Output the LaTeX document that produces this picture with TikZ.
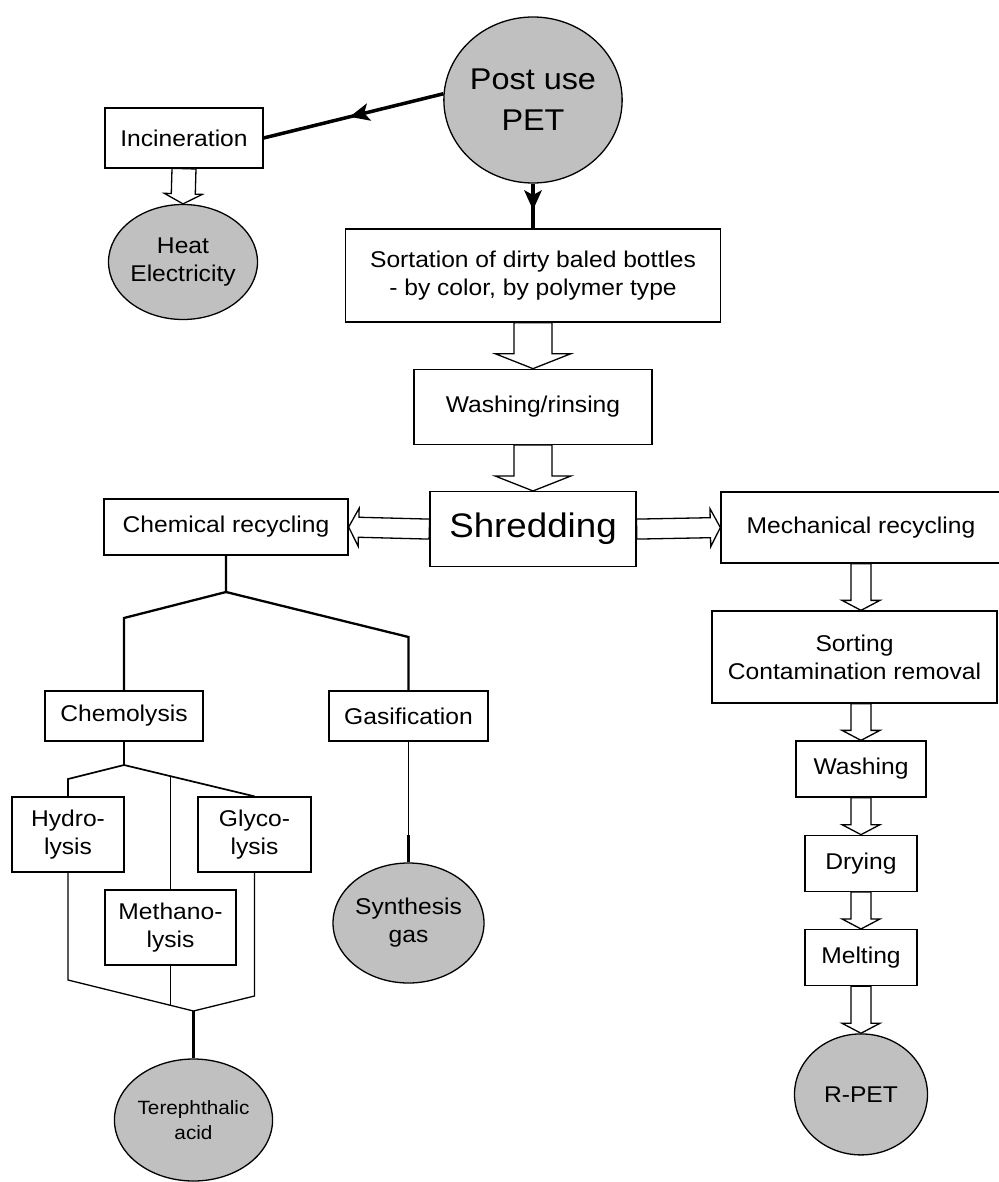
\documentclass[tikz,border=0pt]{standalone}
\usepackage{fontspec}
\setmainfont{Liberation Sans}[FakeStretch=1.08]
\usepackage{tikz}
\usetikzlibrary{shapes.geometric, positioning, calc, decorations.markings}
\definecolor{discgray}{RGB}{192,192,192}

\begin{document}
\begin{tikzpicture}[
    x=1pt, y=-1pt,
    box/.style={draw, rectangle, fill=white, line width=1.3pt, inner sep=0pt, align=center, font=\fontsize{22.8}{28}\selectfont},
    disc/.style={draw, ellipse, fill=discgray, line width=1.3pt, inner sep=0pt, align=center, font=\fontsize{22.8}{28}\selectfont},
    feed/.style={line width=3.5pt, postaction={decorate}, decoration={markings, mark=at position 0.5 with {\fill (4pt,0pt) -- (-16pt,9pt) -- (-11pt,0pt) -- (-16pt,-9pt) -- cycle;}}},
    hollow/.style n args={3}{draw, fill=white, line width=1.3pt, line join=miter, to path={
        let \p1=($(\tikztotarget)-(\tikztostart)$), \n1={atan2(\y1,\x1)}, \n2={veclen(\x1,\y1)} in
        ($(\tikztostart)+({\n1+90}:{#1/2})$)
        -- ($(\tikztostart)+(\n1:{\n2-#3})+({\n1+90}:{#1/2})$)
        -- ($(\tikztostart)+(\n1:{\n2-#3})+({\n1+90}:{#2/2})$)
        -- (\tikztotarget)
        -- ($(\tikztostart)+(\n1:{\n2-#3})+({\n1-90}:{#2/2})$)
        -- ($(\tikztostart)+(\n1:{\n2-#3})+({\n1-90}:{#1/2})$)
        -- ($(\tikztostart)+({\n1-90}:{#1/2})$) -- cycle}},
    bigflow/.style={hollow={38pt}{76pt}{15pt}},
    flow/.style={hollow={20pt}{38pt}{10pt}},
    branch/.style={line width=2.3pt},
    twig/.style={line width=1.3pt}
]
    \useasboundingbox (0,0) rectangle (998,1182);

    % Nodes
    \node (post) [disc, minimum width=170pt, minimum height=166pt, font=\fontsize{30}{41}\selectfont] at (533,100) {Post use\\PET};
    \node (incin) [box, minimum width=158pt, minimum height=60pt] at (184,138) {Incineration};
    \node (heat) [disc, minimum width=134pt, minimum height=115pt] at (183,262) {Heat\\Electricity};
    \node (sort) [box, minimum width=375pt, minimum height=93pt] at (533,275.5) {Sortation of dirty baled bottles\\- by color, by polymer type};
    \node (rinse) [box, minimum width=238pt, minimum height=75pt, below=46pt of sort] {Washing/rinsing};
    \node (shred) [box, minimum width=206pt, minimum height=75pt, font=\fontsize{34}{40}\selectfont, below=46pt of rinse] {Shredding};
    \node (chem) [box, minimum width=244pt, minimum height=56pt] at (226,527) {Chemical recycling};
    \node (mech) [box, minimum width=280pt, minimum height=71pt] at (861,527.5) {Mechanical recycling};
    \node (clean) [box, minimum width=285pt, minimum height=92pt] at (854.5,657) {Sorting\\Contamination removal};
    \node (wash) [box, minimum width=130pt, minimum height=56pt] at (861,769) {Washing};
    \node (dry) [box, minimum width=112pt, minimum height=56pt, below=37pt of wash] {Drying};
    \node (melt) [box, minimum width=112pt, minimum height=56pt, below=37pt of dry] {Melting};
    \node (rpet) [disc, minimum width=133pt, minimum height=121pt, below=47pt of melt] {R-PET};
    \node (chemo) [box, minimum width=158pt, minimum height=50pt] at (124,716) {Chemolysis};
    \node (gas) [box, minimum width=159pt, minimum height=50pt] at (408.5,716) {Gasification};
    \node (syn) [disc, minimum width=131pt, minimum height=120pt] at (408.5,923) {Synthesis\\gas};
    \node (hydro) [box, minimum width=112pt, minimum height=75pt] at (68,834.5) {Hydro-\\lysis};
    \node (glyco) [box, minimum width=113pt, minimum height=75pt] at (254.5,834.5) {Glyco-\\lysis};
    \node (metha) [box, minimum width=131pt, minimum height=75pt] at (170.5,927.5) {Methano-\\lysis};
    \node (tere) [disc, minimum width=141pt, minimum height=122pt, font=\fontsize{19.2}{25}\selectfont] at (193.5,1120) {Terephthalic\\acid};

    % Branch points
    \coordinate (cfork) at (226,592);
    \coordinate (cleft) at (124,618);
    \coordinate (cright) at (408.5,637);
    \coordinate (kfork) at (124,765);
    \coordinate (kleft) at (68,779);
    \coordinate (kmid) at (170.5,776.5);
    \coordinate (gbend) at (408.5,835);
    \coordinate (hbend) at (68,980);
    \coordinate (ybend) at (254.5,996);
    \coordinate (tfork) at (193.5,1011);
    \coordinate (mjoin) at (170.5,1005.5);

    % Arrows
    \draw [feed] (post.176) -- (incin.east);
    \draw [feed] (post.south) -- (sort.north);
    \draw [hollow={24pt}{38pt}{10pt}] (incin.south) to (heat.north);
    \draw [bigflow] (sort.south) to (rinse.north);
    \draw [bigflow] (rinse.south) to (shred.north);
    \draw [flow] (shred.west) to (chem.east);
    \draw [flow] (shred.east) to (mech.west);
    \draw [flow] (mech.south) to (mech.south |- clean.north);
    \draw [flow] (wash.north |- clean.south) to (wash.north);
    \draw [flow] (wash.south) to (dry.north);
    \draw [flow] (dry.south) to (melt.north);
    \draw [flow] (melt.south) to (rpet.north);

    % Lines
    \draw [branch] (chem.south) -- (cfork) -- (cleft) -- (chemo.north);
    \draw [branch] (cfork) -- (cright) -- (gas.north);
    \draw [line width=1.7pt] (chemo.south) -- (kfork) -- (kleft) -- (hydro.north);
    \draw [line width=1.7pt] (kfork) -- (glyco.north);
    \draw [twig] (kmid) -- (metha.north);
    \draw [twig] (hydro.south) -- (hbend) -- (tfork) -- (ybend) -- (glyco.south);
    \draw [twig] (metha.south) -- (mjoin);
    \draw [branch] (tfork) -- (tere.north);
    \draw [twig] (gas.south) -- (gbend);
    \draw [branch] (gbend) -- (syn.north);
\end{tikzpicture}
\end{document}
